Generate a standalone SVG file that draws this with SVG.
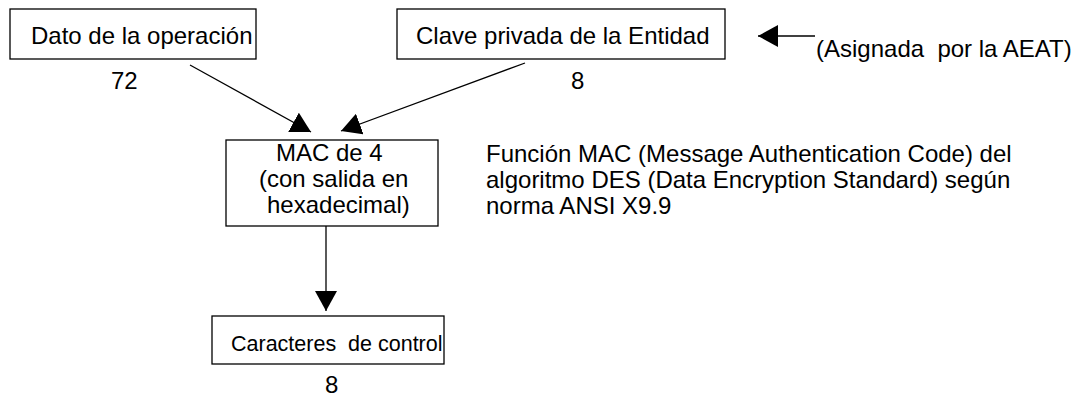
<svg xmlns="http://www.w3.org/2000/svg" width="1084" height="396" viewBox="0 0 1084 396">
  <defs>
    <marker id="arrow" markerUnits="userSpaceOnUse" viewBox="0 0 20 22" refX="20" refY="11" markerWidth="20" markerHeight="22" orient="auto">
      <path d="M0,0 L20,11 L0,22 z" fill="#000"/>
    </marker>
    <style>
      .box { fill: #fff; stroke: #000; stroke-width: 1.3; }
      .t { font-family: "Liberation Sans", Arial, sans-serif; font-size: 24px; fill: #000; }
      .s { font-size: 21.5px; }
      .conn { stroke: #000; stroke-width: 1.3; fill: none; marker-end: url(#arrow); }
    </style>
  </defs>
  <rect width="1084" height="396" fill="#fff"/>

  <g id="connectors">
    <line class="conn" x1="190" y1="65" x2="311" y2="132"/>
    <line class="conn" x1="525" y1="63" x2="341" y2="131"/>
    <line class="conn" x1="326" y1="226" x2="326" y2="311"/>
    <line class="conn" x1="815" y1="36" x2="758" y2="36"/>
  </g>

  <g id="dato">
    <rect class="box" x="10" y="9" width="246" height="50"/>
    <text class="t" x="31" y="44">Dato de la operación</text>
    <text class="t" x="111" y="89">72</text>
  </g>

  <g id="clave">
    <rect class="box" x="397" y="9" width="328" height="50"/>
    <text class="t" x="416" y="44">Clave privada de la Entidad</text>
    <text class="t" x="571" y="89">8</text>
  </g>

  <g id="asignada">
    <text class="t" x="816" y="57" xml:space="preserve">(Asignada  por la AEAT)</text>
  </g>

  <g id="mac">
    <rect class="box" x="226" y="140" width="212" height="86"/>
    <text class="t" x="276" y="161">MAC de 4</text>
    <text class="t" x="259" y="187">(con salida en</text>
    <text class="t" x="267" y="213">hexadecimal)</text>
  </g>

  <g id="funcion">
    <text class="t" x="486" y="162">Función MAC (Message Authentication Code) del</text>
    <text class="t" x="486" y="188">algoritmo DES (Data Encryption Standard) según</text>
    <text class="t" x="486" y="214">norma ANSI X9.9</text>
  </g>

  <g id="caracteres">
    <rect class="box" x="212" y="316" width="232" height="48"/>
    <text class="t s" x="231" y="351" xml:space="preserve">Caracteres  de control</text>
    <text class="t" x="325" y="393">8</text>
  </g>
</svg>
